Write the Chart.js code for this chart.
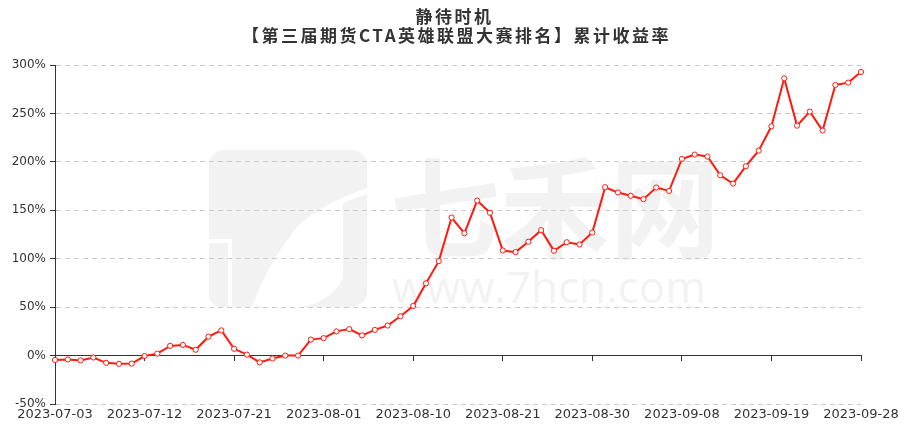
<!DOCTYPE html>
<html>
<head>
<meta charset="utf-8">
<script src="https://cdn.jsdelivr.net/npm/chart.js@4/dist/chart.umd.min.js"></script>
<style>
html,body{margin:0;padding:0;background:#fff;}
#wrap{width:907px;height:432px;position:relative;}
</style>
</head>
<body>
<div id="wrap"><canvas id="c" width="907" height="432"></canvas></div>
<script>
const titleLines = ['静待时机', '【第三届期货CTA英雄联盟大赛排名】累计收益率'];
const categories = [
  '2023-07-03','2023-07-04','2023-07-05','2023-07-06','2023-07-07',
  '2023-07-10','2023-07-11','2023-07-12','2023-07-13','2023-07-14',
  '2023-07-17','2023-07-18','2023-07-19','2023-07-20','2023-07-21',
  '2023-07-24','2023-07-25','2023-07-26','2023-07-27','2023-07-28',
  '2023-07-31','2023-08-01','2023-08-02','2023-08-03','2023-08-04',
  '2023-08-07','2023-08-08','2023-08-09','2023-08-10','2023-08-11',
  '2023-08-14','2023-08-15','2023-08-16','2023-08-17','2023-08-18',
  '2023-08-21','2023-08-22','2023-08-23','2023-08-24','2023-08-25',
  '2023-08-28','2023-08-29','2023-08-30','2023-08-31','2023-09-01',
  '2023-09-04','2023-09-05','2023-09-06','2023-09-07','2023-09-08',
  '2023-09-11','2023-09-12','2023-09-13','2023-09-14','2023-09-15',
  '2023-09-18','2023-09-19','2023-09-20','2023-09-21','2023-09-22',
  '2023-09-25','2023-09-26','2023-09-27','2023-09-28'
];
const cumulativeReturn = [
  -4.5, -4, -5, -2, -7.5, -8.5, -8.3, -0.5, 2, 10,
  11, 6, 19.5, 26, 7, 1, -7, -3, 0, 0,
  16.5, 18, 25, 27.3, 20.8, 26.5, 31, 40.6, 51.2, 74.6,
  97.5, 142.5, 126.3, 160, 147.4, 108.5, 106.8, 117.5, 129.5, 108.2,
  117, 114.7, 127, 173.8, 168.4, 165, 161.5, 173.5, 170, 203,
  207.5, 205.5, 186.2, 177.6, 195.5, 211.6, 236.7, 286.2, 237.4, 251.9,
  232.3, 279.4, 281.8, 292.8
];
const yTicks = [-50, 0, 50, 100, 150, 200, 250, 300];
const labelEvery = 7;
const watermarkTexts = ['七禾网', 'www.7hcn.com'];

const watermark = {
  id: 'watermark',
  beforeDraw(chart) {
    const ctx = chart.ctx;
    ctx.save();
    ctx.fillStyle = '#f2f2f2';
    // logo
    ctx.beginPath();
    ctx.moveTo(224, 150);
    ctx.lineTo(352, 150);
    ctx.arcTo(367, 150, 367, 165, 15);
    ctx.lineTo(367, 188);
    ctx.quadraticCurveTo(322, 204, 300, 224);
    ctx.quadraticCurveTo(270, 258, 252, 307);
    ctx.lineTo(232, 307);
    ctx.lineTo(232, 239);
    ctx.lineTo(209, 239);
    ctx.lineTo(209, 165);
    ctx.arcTo(209, 150, 224, 150, 15);
    ctx.closePath();
    ctx.fill();
    ctx.beginPath();
    ctx.moveTo(209, 243);
    ctx.lineTo(228, 243);
    ctx.lineTo(228, 307);
    ctx.lineTo(221, 307);
    ctx.arcTo(209, 307, 209, 295, 12);
    ctx.closePath();
    ctx.fill();
    ctx.beginPath();
    ctx.moveTo(343, 203);
    ctx.lineTo(367, 194);
    ctx.lineTo(367, 292);
    ctx.arcTo(367, 307, 352, 307, 15);
    ctx.lineTo(303, 307);
    ctx.quadraticCurveTo(333, 300, 343, 278);
    ctx.closePath();
    ctx.fill();
    // text
    ctx.textAlign = 'center';
    ctx.textBaseline = 'middle';
    ctx.font = 'bold 110px "Noto Sans CJK SC"';
    ctx.fillText(watermarkTexts[0], 555, 208);
    ctx.textBaseline = 'alphabetic';
    ctx.font = '44px "Open Sans"';
    ctx.fillText(watermarkTexts[1], 549, 303);
    ctx.restore();
  }
};

const titleDraw = {
  id: 'titleDraw',
  afterDraw(chart) {
    const ctx = chart.ctx;
    const cx = chart.width / 2;
    ctx.save();
    ctx.fillStyle = '#333333';
    ctx.textAlign = 'center';
    ctx.textBaseline = 'middle';
    ctx.font = 'bold 17px "Noto Sans CJK SC"';
    if ('letterSpacing' in ctx) ctx.letterSpacing = '2.5px';
    ctx.fillText(titleLines[0], cx + 1, 17);
    ctx.fillText(titleLines[1], cx + 3, 36);
    ctx.restore();
  }
};

new Chart(document.getElementById('c'), {
  type: 'line',
  data: {
    labels: categories,
    datasets: [{
      data: cumulativeReturn,
      borderColor: '#ff1a0e',
      backgroundColor: '#ffffff',
      borderWidth: 2,
      pointRadius: 2.6,
      pointBorderWidth: 1,
      pointBorderColor: '#ff1a0e',
      pointBackgroundColor: '#ffffff',
      tension: 0,
      fill: false
    }]
  },
  options: {
    responsive: false,
    animation: false,
    devicePixelRatio: 1,
    layout: { padding: { left: 0, right: 46, top: 65, bottom: 0 } },
    plugins: {
      legend: { display: false },
      tooltip: { enabled: false },
      title: { display: false }
    },
    scales: {
      x: {
        type: 'category',
        position: 'bottom',
        offset: false,
        grid: { display: false, drawTicks: false },
        border: { display: false },
        ticks: {
          autoSkip: false,
          maxRotation: 0,
          padding: 3,
          color: '#333333',
          font: { family: '"DejaVu Sans"', size: 13 },
          callback: function(v, i) { return i % labelEvery === 0 ? categories[i] : null; }
        },
        afterFit(scale) { scale.height = 28; }
      },
      x2: {
        type: 'category',
        position: { y: 0 },
        offset: false,
        grid: {
          display: true,
          drawOnChartArea: false,
          drawTicks: true,
          tickLength: 5,
          color: 'transparent',
          tickColor: (ctx) => (ctx.index % labelEvery === 0 ? '#333333' : 'transparent')
        },
        border: { display: true, color: '#333333', width: 1 },
        ticks: { display: false, autoSkip: false }
      },
      y: {
        type: 'linear',
        position: 'left',
        min: -50,
        max: 300,
        afterBuildTicks(scale) { scale.ticks = yTicks.map(v => ({ value: v })); },
        grid: {
          color: '#cccccc',
          tickColor: '#333333',
          tickLength: 5,
          lineWidth: 1
        },
        border: { display: true, color: '#333333', width: 1, dash: [5, 4] },
        ticks: {
          padding: 4,
          color: '#333333',
          font: { family: '"DejaVu Sans"', size: 12 },
          callback: (v) => v + '%'
        },
        afterFit(scale) { scale.width = 55; }
      }
    }
  },
  plugins: [watermark, titleDraw]
});
</script>
</body>
</html>
